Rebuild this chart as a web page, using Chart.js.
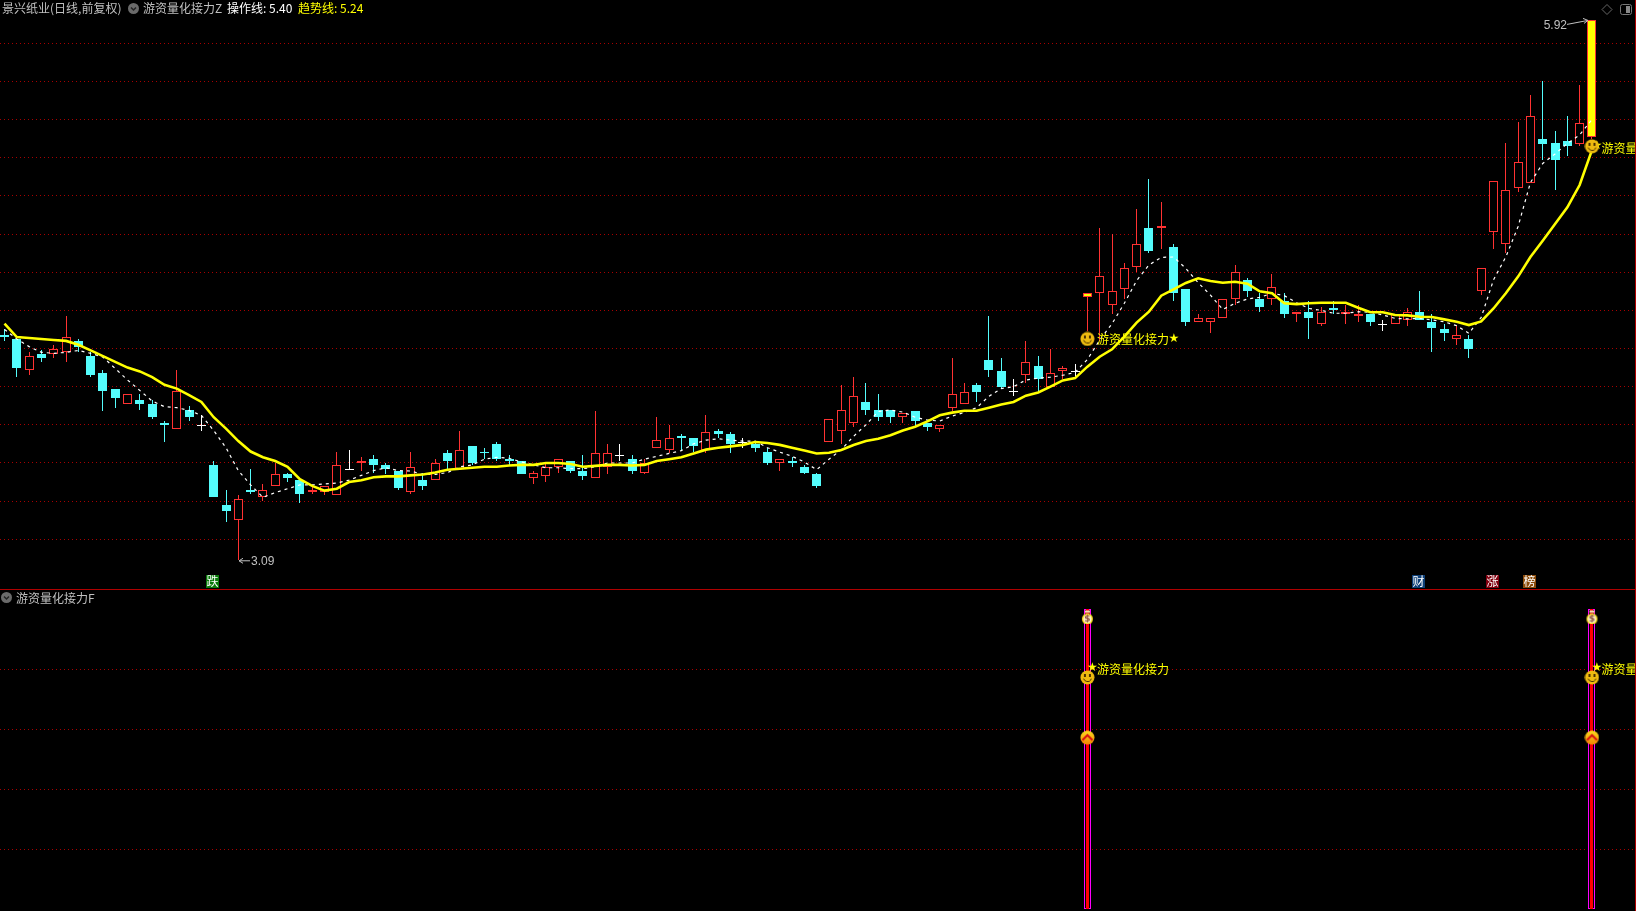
<!DOCTYPE html>
<html>
<head>
<meta charset="utf-8">
<title>景兴纸业</title>
<script src="https://cdn.jsdelivr.net/npm/chart.js@4/dist/chart.umd.js"></script>
<style>
html, body { margin: 0; padding: 0; background: #000; overflow: hidden; }
body { width: 1636px; height: 911px; position: relative; font: 12px "Noto Sans CJK SC", sans-serif; }
canvas { position: absolute; left: 0; }
#topChart { top: 0; }
#subChart { top: 590px; }
.txt { position: absolute; line-height: 16px; white-space: nowrap; color: #c0c0c0; }
.dot { position: absolute; width: 11px; height: 11px; border-radius: 50%; background: #6a6a6a; color: #222; }
.dot svg { display: block; }
#sep { position: absolute; left: 0; top: 589px; width: 1636px; height: 1px; background: #b00000; }
#edge { position: absolute; left: 1635px; top: 0; width: 1px; height: 911px; background: #b00000; }
</style>
</head>
<body>
<canvas id="topChart" width="1636" height="589"></canvas>
<canvas id="subChart" width="1636" height="321"></canvas>
<div id="sep"></div>
<div id="edge"></div>

<div class="txt" style="left:2px;top:0">景兴纸业(日线,前复权)</div>
<div class="dot" style="left:128px;top:3px"><svg width="11" height="11"><path d="M3 4.5 L5.5 7 L8 4.5" fill="none" stroke="#222" stroke-width="1.5"/></svg></div>
<div class="txt" style="left:143px;top:0">游资量化接力Z</div>
<div class="txt" style="left:227px;top:0;color:#fff">操作线: 5.40</div>
<div class="txt" style="left:298px;top:0;color:#ff0">趋势线: 5.24</div>
<div class="dot" style="left:1px;top:592px"><svg width="11" height="11"><path d="M3 4.5 L5.5 7 L8 4.5" fill="none" stroke="#222" stroke-width="1.5"/></svg></div>
<div class="txt" style="left:16px;top:590px">游资量化接力F</div>
<svg style="position:absolute;left:1600px;top:2px" width="34" height="16">
  <path d="M7 2.5 L12 7.5 L7 12.5 L2 7.5 Z" fill="none" stroke="#666"/>
  <rect x="20.5" y="2.5" width="11" height="10" rx="2" fill="none" stroke="#777"/>
  <rect x="26" y="4" width="4" height="7" fill="#888"/>
</svg>

<script>
// Candles
const opens = [
  4.27,4.25,4.09,4.17,4.17,4.18,4.24,4.16,4.07,3.99,
  3.91,3.93,3.91,3.81,3.78,3.88,3.80,3.59,3.38,3.30,
  3.46,3.42,3.48,3.54,3.51,3.45,3.45,3.43,3.57,3.60,
  3.62,3.59,3.56,3.45,3.51,3.51,3.65,3.57,3.69,3.66,
  3.70,3.62,3.61,3.52,3.53,3.58,3.61,3.56,3.52,3.58,
  3.64,3.62,3.55,3.68,3.67,3.74,3.73,3.67,3.77,3.75,
  3.71,3.70,3.66,3.60,3.61,3.58,3.54,3.71,3.77,3.81,
  3.92,3.88,3.88,3.84,3.87,3.81,3.78,3.89,3.91,4.01,
  4.14,4.08,3.98,4.06,4.11,4.00,4.08,4.08,4.47,4.49,
  4.43,4.51,4.63,4.83,4.83,4.73,4.51,4.34,4.34,4.36,
  4.46,4.56,4.46,4.46,4.45,4.38,4.39,4.33,4.41,4.38,
  4.37,4.38,4.33,4.33,4.35,4.39,4.34,4.30,4.25,4.25,
  4.50,4.81,4.75,5.04,5.07,5.30,5.28,5.29,5.27,5.31
];
const closes = [
  4.26,4.10,4.16,4.15,4.20,4.26,4.21,4.06,3.98,3.94,
  3.96,3.91,3.84,3.80,3.98,3.84,3.80,3.42,3.35,3.41,
  3.45,3.46,3.54,3.52,3.44,3.46,3.48,3.59,3.57,3.61,
  3.59,3.57,3.47,3.58,3.48,3.60,3.61,3.67,3.60,3.65,
  3.62,3.61,3.54,3.55,3.58,3.62,3.56,3.53,3.65,3.65,
  3.64,3.56,3.60,3.72,3.73,3.73,3.69,3.76,3.75,3.70,
  3.71,3.68,3.60,3.62,3.60,3.55,3.48,3.83,3.88,3.95,
  3.88,3.84,3.84,3.86,3.82,3.79,3.80,3.96,3.97,3.97,
  4.09,4.00,3.98,4.13,4.04,4.07,4.10,4.08,4.49,4.58,
  4.50,4.62,4.75,4.71,4.84,4.49,4.34,4.36,4.36,4.46,
  4.60,4.50,4.42,4.52,4.38,4.39,4.36,4.39,4.40,4.39,
  4.38,4.34,4.33,4.38,4.39,4.35,4.31,4.28,4.27,4.20,
  4.62,5.08,5.03,5.18,5.42,5.27,5.19,5.26,5.38,5.92
];
const highs = [
  4.30,4.25,4.18,4.19,4.22,4.37,4.25,4.18,4.09,3.99,
  3.96,3.96,3.93,3.82,4.09,3.90,3.85,3.61,3.46,3.43,
  3.57,3.49,3.60,3.55,3.51,3.48,3.48,3.66,3.67,3.63,
  3.64,3.60,3.56,3.66,3.55,3.62,3.67,3.77,3.69,3.68,
  3.71,3.64,3.61,3.56,3.60,3.62,3.61,3.64,3.87,3.70,
  3.70,3.64,3.62,3.84,3.80,3.75,3.73,3.85,3.78,3.76,
  3.73,3.71,3.68,3.62,3.63,3.59,3.55,3.83,4.01,4.05,
  4.02,3.96,3.88,3.86,3.87,3.81,3.80,4.15,4.02,4.02,
  4.37,4.15,4.04,4.24,4.16,4.20,4.11,4.12,4.49,4.83,
  4.80,4.65,4.93,5.09,4.97,4.75,4.51,4.38,4.36,4.46,
  4.64,4.57,4.49,4.59,4.49,4.39,4.45,4.42,4.45,4.43,
  4.43,4.38,4.35,4.38,4.41,4.50,4.38,4.33,4.32,4.27,
  4.62,5.08,5.28,5.39,5.53,5.60,5.34,5.42,5.58,5.92
];
const lows = [
  4.24,4.05,4.06,4.13,4.15,4.13,4.18,4.05,3.87,3.89,
  3.91,3.88,3.83,3.71,3.78,3.82,3.77,3.42,3.29,3.09,
  3.44,3.40,3.48,3.50,3.39,3.44,3.43,3.43,3.57,3.56,
  3.55,3.54,3.46,3.44,3.46,3.51,3.57,3.57,3.59,3.62,
  3.61,3.59,3.54,3.49,3.50,3.55,3.55,3.51,3.52,3.54,
  3.61,3.54,3.54,3.68,3.65,3.67,3.66,3.65,3.73,3.65,
  3.68,3.66,3.59,3.56,3.58,3.54,3.47,3.71,3.70,3.79,
  3.85,3.82,3.81,3.81,3.79,3.77,3.76,3.87,3.91,3.92,
  4.05,3.99,3.95,4.02,3.97,4.00,4.04,4.05,4.29,4.24,
  4.38,4.46,4.60,4.70,4.72,4.45,4.32,4.34,4.28,4.36,
  4.43,4.47,4.39,4.43,4.36,4.34,4.25,4.32,4.38,4.33,
  4.34,4.32,4.29,4.33,4.32,4.35,4.18,4.24,4.22,4.15,
  4.48,4.72,4.70,5.02,5.07,5.19,5.03,5.21,5.26,5.30
];

// 操作线 (white dashed)
const opLine = [
  4.30,4.25,4.21,4.18,4.175,4.18,4.19,4.175,4.155,4.095,
  4.035,3.98,3.925,3.895,3.89,3.875,3.85,3.77,3.68,3.56,
  3.485,3.42,3.445,3.465,3.485,3.485,3.49,3.495,3.51,3.535,
  3.56,3.575,3.56,3.558,3.54,3.54,3.55,3.58,3.59,3.62,
  3.63,3.625,3.605,3.59,3.575,3.575,3.57,3.57,3.58,3.60,
  3.60,3.60,3.62,3.635,3.65,3.665,3.70,3.72,3.727,3.72,
  3.715,3.715,3.68,3.657,3.635,3.605,3.565,3.62,3.67,3.74,
  3.80,3.87,3.878,3.867,3.84,3.825,3.82,3.846,3.865,3.89,
  3.95,3.99,4.00,4.035,4.045,4.05,4.06,4.075,4.143,4.245,
  4.33,4.437,4.556,4.638,4.678,4.68,4.62,4.545,4.48,4.405,
  4.437,4.46,4.468,4.49,4.477,4.44,4.41,4.40,4.385,4.385,
  4.393,4.39,4.376,4.358,4.355,4.358,4.35,4.34,4.32,4.28,
  4.363,4.56,4.68,4.84,5.07,5.17,5.22,5.275,5.32,5.40
];
// 趋势线 (yellow)
const trendLine = [
  4.33,4.26,4.255,4.25,4.245,4.24,4.22,4.19,4.16,4.13,
  4.10,4.08,4.05,4.01,3.99,3.956,3.92,3.84,3.78,3.715,
  3.66,3.63,3.61,3.58,3.515,3.48,3.455,3.465,3.50,3.51,
  3.525,3.53,3.53,3.535,3.54,3.55,3.565,3.57,3.575,3.58,
  3.58,3.587,3.59,3.59,3.60,3.60,3.595,3.58,3.585,3.59,
  3.59,3.587,3.59,3.61,3.62,3.63,3.65,3.67,3.68,3.687,
  3.695,3.71,3.705,3.695,3.68,3.665,3.65,3.654,3.668,3.694,
  3.715,3.727,3.745,3.77,3.79,3.818,3.85,3.864,3.874,3.874,
  3.89,3.907,3.92,3.953,3.97,4.00,4.033,4.045,4.105,4.157,
  4.196,4.262,4.336,4.393,4.477,4.51,4.544,4.568,4.554,4.545,
  4.55,4.54,4.50,4.49,4.437,4.433,4.437,4.44,4.44,4.44,
  4.414,4.39,4.39,4.376,4.374,4.367,4.365,4.353,4.34,4.323,
  4.342,4.41,4.49,4.577,4.68,4.765,4.853,4.94,5.057,5.24
];

// Signals and tags
const signalBars = [88, 129];
const smilePrices = [4.25, 5.26];
const signalName = "游资量化接力";
const labelPrices = [4.25, 5.25];
const tagBars = [17, 115, 121, 124];
const tagTexts = ["跌", "财", "涨", "榜"];
const tagColors = ["#0a7a0a", "#0e3f77", "#80000f", "#8b4a08"];

// Lower panel
const subBarValue = [100, 100];
const bagValues = [97.5, 97.5];
const smileValues = [77.3, 77.3];
const chevronValues = [57.2, 57.2];
const subLabelValue = 80;

// Axis ticks
const priceTicks = [5.8,5.6,5.4,5.2,5.0,4.8,4.6,4.4,4.2,4.0,3.8,3.6,3.4,3.2];
const subTicks = [80,60,40,20];

const CYAN = "#54fcfc", RED = "#ff3232", YELLOW = "#ffff00", GRID = "#a80000", GREY = "#c0c0c0";
const xMin = -0.366, xMax = 132.58;

function icon(draw) {
    const c = document.createElement("canvas");
    c.width = 15; c.height = 15;
    draw(c.getContext("2d"));
    return c;
}
const smileIcon = icon(g => {
    g.fillStyle = "#eebb10";
    g.beginPath(); g.arc(7.5, 7.5, 7, 0, Math.PI * 2); g.fill();
    g.fillStyle = "#4a3000";
    g.fillRect(4, 4, 2, 3); g.fillRect(9, 4, 2, 3);
    g.strokeStyle = "#4a3000"; g.lineWidth = 1;
    g.beginPath(); g.arc(7.5, 7.5, 4, 0.3, Math.PI - 0.3); g.stroke();
});
const chevronIcon = icon(g => {
    const grad = g.createLinearGradient(0, 0, 0, 15);
    grad.addColorStop(0, "#ffe020"); grad.addColorStop(1, "#f08000");
    g.fillStyle = grad;
    g.beginPath(); g.arc(7.5, 7.5, 7, 0, Math.PI * 2); g.fill();
    g.strokeStyle = "#d81010"; g.lineWidth = 2;
    g.beginPath(); g.moveTo(2.5, 10); g.lineTo(7.5, 5); g.lineTo(12.5, 10); g.stroke();
});
const bagIcon = icon(g => {
    g.fillStyle = "#f8e020";
    g.beginPath(); g.arc(7.5, 9.5, 5.5, 0, Math.PI * 2); g.fill();
    g.fillStyle = "#fff4d0";
    g.beginPath(); g.arc(7.5, 9.5, 4, 0, Math.PI * 2); g.fill();
    g.fillStyle = "#f0e0b0"; g.fillRect(5, 1, 5, 3);
    g.fillStyle = "#d03030"; g.fillRect(5, 3, 5, 1);
    g.fillStyle = "#8a4a3a"; g.font = "bold 9px 'DejaVu Sans'"; g.textAlign = "center"; g.textBaseline = "middle";
    g.fillText("$", 7.5, 10);
});

function candleColor(i) {
    if (signalBars.includes(i)) return RED;
    if (closes[i] > opens[i]) return RED;
    if (closes[i] < opens[i]) return CYAN;
    return "#ffffff";
}
function bodyFill(i) {
    if (signalBars.includes(i)) return YELLOW;
    if (closes[i] > opens[i]) return "#000000";
    return candleColor(i);
}

// keeps bars on whole pixels so they stay sharp like the original
const snapBars = {
    id: "snapBars",
    beforeDatasetsDraw(chart) {
        chart.getSortedVisibleDatasetMetas().forEach(meta => {
            if (meta.type !== "bar") return;
            meta.data.forEach(b => {
                b.x = Math.floor(b.x) + 0.5;
                b.y = Math.round(b.y);
                b.base = Math.round(b.base);
                if (b.base === b.y) b.base = b.y + 1;
            });
        });
    }
};

function gridAxis(min, max, ticks) {
    return {
        min: min, max: max,
        afterBuildTicks: axis => { axis.ticks = ticks.map(v => ({ value: v })); },
        ticks: { display: false },
        border: { display: false, dash: [1, 3] },
        grid: { color: GRID, drawTicks: false, lineWidth: 1 }
    };
}
const xAxis = { type: "linear", display: false, min: xMin, max: xMax, offset: false };
const baseOptions = {
    responsive: false,
    animation: false,
    events: [],
    layout: { padding: 0, autoPadding: false },
    datasets: { bar: { grouped: false, inflateAmount: 0, borderSkipped: false } },
    plugins: { legend: { display: false }, tooltip: { enabled: false } }
};

function drawSignalText(ctx, text, x, y) {
    ctx.fillStyle = YELLOW;
    ctx.font = '12px "Noto Sans CJK SC"';
    ctx.textAlign = "left";
    ctx.textBaseline = "middle";
    ctx.fillText(text, x, y);
}
function drawStar(ctx, x, y) {
    ctx.fillStyle = YELLOW;
    ctx.font = '12px "DejaVu Sans"';
    ctx.textAlign = "center";
    ctx.textBaseline = "middle";
    ctx.fillText("★", x, y);
}

// text that sits under the icons: signal names, stars
const topLabels = {
    id: "topLabels",
    beforeDatasetDraw(chart, args) {
        if (chart.data.datasets[args.index].label !== "signal") return;
        const { x, y } = chart.scales;
        const ctx = chart.ctx;
        signalBars.forEach((bar, k) => {
            const px = x.getPixelForValue(bar), py = y.getPixelForValue(labelPrices[k]);
            drawSignalText(ctx, signalName, px + 9.5, py);
            if (k === 0) drawStar(ctx, px + 86.5, py);
            else drawStar(ctx, px + 5, py - 2);
        });
    },
    afterDraw(chart) {
        const { x, y } = chart.scales;
        const ctx = chart.ctx;
        // highest and lowest price marks
        const hi = highs.indexOf(Math.max(...highs));
        const lo = lows.indexOf(Math.min(...lows));
        const hx = Math.floor(x.getPixelForValue(hi)), hy = y.getPixelForValue(highs[hi]);
        const lx = Math.floor(x.getPixelForValue(lo)), ly = y.getPixelForValue(lows[lo]);
        ctx.strokeStyle = GREY;
        ctx.lineWidth = 1;
        ctx.beginPath();
        ctx.moveTo(hx - 24, hy + 4); ctx.lineTo(hx - 3, hy);
        ctx.moveTo(hx - 8, hy - 2); ctx.lineTo(hx - 3, hy); ctx.lineTo(hx - 7, hy + 3);
        ctx.moveTo(lx + 1, ly + 0.5); ctx.lineTo(lx + 12, ly + 0.5);
        ctx.moveTo(lx + 5, ly - 2); ctx.lineTo(lx + 1, ly + 0.5); ctx.lineTo(lx + 5, ly + 3);
        ctx.stroke();
        ctx.fillStyle = GREY;
        ctx.font = '12px "Liberation Sans"';
        ctx.textBaseline = "middle";
        ctx.textAlign = "right";
        ctx.fillText(highs[hi].toFixed(2), hx - 24, hy + 5);
        ctx.textAlign = "left";
        ctx.fillText(lows[lo].toFixed(2), lx + 13, ly + 1.5);
        // news tags along the bottom of the panel
        ctx.font = '12px "Noto Sans CJK SC"';
        ctx.textAlign = "center";
        tagBars.forEach((bar, k) => {
            const cx = Math.floor(x.getPixelForValue(bar)) - 1;
            ctx.fillStyle = tagColors[k];
            ctx.fillRect(cx - 6, 575, 13, 13);
            ctx.fillStyle = "#ffffff";
            ctx.fillText(tagTexts[k], cx + 0.5, 581.5);
        });
    }
};

const subLabels = {
    id: "subLabels",
    beforeDatasetDraw(chart, args) {
        if (chart.data.datasets[args.index].label !== "smile") return;
        const { x, y } = chart.scales;
        const ctx = chart.ctx;
        signalBars.forEach(bar => {
            const px = x.getPixelForValue(bar), py = y.getPixelForValue(subLabelValue);
            drawSignalText(ctx, signalName, px + 9.5, py);
            drawStar(ctx, px + 5, py - 1);
        });
    }
};

new Chart(document.getElementById("topChart"), {
    type: "bar",
    data: {
        datasets: [
            {
                type: "line", label: "signal", order: 1, showLine: false,
                data: signalBars.map((b, k) => ({ x: b, y: smilePrices[k] })),
                pointStyle: smileIcon, pointRadius: 7
            },
            {
                type: "line", label: "趋势线", order: 2,
                data: trendLine.map((v, i) => ({ x: i, y: v })),
                borderColor: YELLOW, borderWidth: 2.6, pointRadius: 0, tension: 0
            },
            {
                type: "line", label: "操作线", order: 3,
                data: opLine.map((v, i) => ({ x: i, y: v })),
                borderColor: "#ffffff", borderWidth: 1.2, borderDash: [3, 4], pointRadius: 0, tension: 0
            },
            {
                label: "body", order: 4,
                data: opens.map((v, i) => ({ x: i, y: [v, closes[i]] })),
                barThickness: 9, borderWidth: 1,
                borderColor: opens.map((v, i) => candleColor(i)),
                backgroundColor: opens.map((v, i) => bodyFill(i))
            },
            {
                label: "wick", order: 5,
                data: lows.map((v, i) => ({ x: i, y: [v, highs[i]] })),
                barThickness: 1, borderWidth: 0,
                backgroundColor: lows.map((v, i) => candleColor(i))
            }
        ]
    },
    options: Object.assign({}, baseOptions, {
        scales: { x: xAxis, y: gridAxis(2.9395, 6.027, priceTicks) }
    }),
    plugins: [snapBars, topLabels]
});

new Chart(document.getElementById("subChart"), {
    type: "bar",
    data: {
        datasets: [
            {
                type: "line", label: "bag", order: 1, showLine: false,
                data: signalBars.map((b, k) => ({ x: b, y: bagValues[k] })),
                pointStyle: bagIcon, pointRadius: 7
            },
            {
                type: "line", label: "chevron", order: 2, showLine: false,
                data: signalBars.map((b, k) => ({ x: b, y: chevronValues[k] })),
                pointStyle: chevronIcon, pointRadius: 7
            },
            {
                type: "line", label: "smile", order: 3, showLine: false,
                data: signalBars.map((b, k) => ({ x: b, y: smileValues[k] })),
                pointStyle: smileIcon, pointRadius: 7
            },
            {
                label: "core", order: 4,
                data: signalBars.map((b, k) => ({ x: b, y: [0, subBarValue[k]] })),
                barThickness: 3, borderWidth: 0, backgroundColor: "#ff0000"
            },
            {
                label: "frame", order: 5,
                data: signalBars.map((b, k) => ({ x: b, y: [0, subBarValue[k]] })),
                barThickness: 7, borderWidth: 1, borderColor: "#ff00ff", backgroundColor: "#000000"
            }
        ]
    },
    options: Object.assign({}, baseOptions, {
        scales: { x: xAxis, y: gridAxis(-0.67, 106.5, subTicks) }
    }),
    plugins: [snapBars, subLabels]
});
</script>
</body>
</html>
